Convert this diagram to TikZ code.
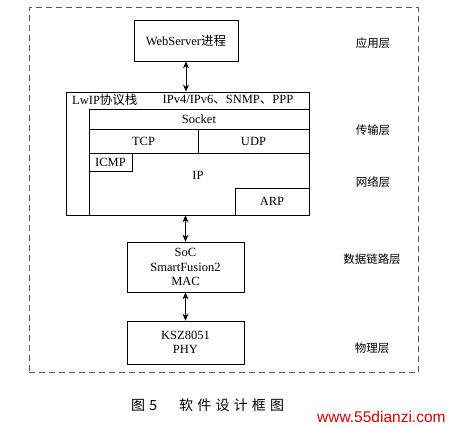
\documentclass[tikz,border=0pt]{standalone}
\usepackage{fontspec}
\setmainfont{Liberation Serif}
\newfontfamily\cjk{Noto Sans CJK SC}
\newfontfamily\cjkcap[LetterSpace=30]{Noto Sans CJK SC}
\newfontfamily\wmfont{Liberation Sans}
\usetikzlibrary{arrows.meta,positioning}
\begin{document}
\begin{tikzpicture}[
  x=1pt, y=-1pt,
  font=\fontsize{12.5}{14.5}\selectfont,
  box/.style={draw, line width=0.8pt, inner sep=0pt, align=center},
  cell/.style={draw, line width=0.7pt, inner sep=0pt},
  layer/.style={font=\cjk\fontsize{11.5}{14}\selectfont},
  arr/.style={{Stealth[length=7pt,width=6pt]}-{Stealth[length=7pt,width=6pt]}, line width=0.9pt}
]
\useasboundingbox (0,0) rectangle (451,428);
% outer dashed frame
\node[draw=black!65, dash pattern=on 6pt off 4pt, line width=1pt,
  minimum width=389pt, minimum height=365pt] (frame) at (223.5,190.5) {};

% application
\node[box, minimum width=104pt, minimum height=41pt] (web) at (186,40.5) {WebServer{\cjk 进程}};

% lwip stack
\node[box, minimum width=243pt, minimum height=123pt] (lwip) at (187.5,153.5) {};
\node[anchor=west, inner sep=0pt] (lwipname) at (72,100) {LwIP{\cjk 协议栈}};
\node[inner sep=0pt] (proto) at (228,100) {IPv4/IPv6{\cjk 、}SNMP{\cjk 、}PPP};
\node[cell, minimum width=220pt, minimum height=20pt] (socket) at (199,119) {Socket};
\node[cell, minimum width=109pt, minimum height=24pt] (tcp) at (143.5,141) {TCP};
\node[cell, minimum width=111pt, minimum height=24pt] (udp) at (253.5,141) {UDP};
\node[cell, minimum width=220pt, minimum height=62pt] (ipbox) at (199,184) {};
\node[inner sep=0pt] (ip) at (198,175) {IP};
\node[cell, minimum width=43pt, minimum height=18pt] (icmp) at (110.5,162) {ICMP};
\node[cell, minimum width=74pt, minimum height=27pt] (arp) at (272,201.5) {ARP};

% link and physical
\node[box, minimum width=117pt, minimum height=50pt] (soc) at (185.5,267) {SoC\\SmartFusion2\\MAC};
\node[box, minimum width=117pt, minimum height=43pt] (phy) at (185.5,342.5) {KSZ8051\\PHY};

\draw[arr] (web.south) -- (web.south |- lwip.north);
\draw[arr] (soc.north) -- (soc.north |- lwip.south);
\draw[arr] (soc.south) -- (phy.north);

% layer names
\node[layer] (app) at (373,43) {应用层};
\node[layer] (trans) at (373,130) {传输层};
\node[layer] (net) at (373,182) {网络层};
\node[layer] (link) at (372,259) {数据链路层};
\node[layer] (phys) at (372,348) {物理层};

% caption
\node[anchor=west, inner sep=0pt, font=\cjkcap\fontsize{14}{16}\selectfont] (cap) at (131,405) {图5\hspace{22pt}软件设计框图};
\node[anchor=west, inner sep=0pt, text=red!85!black, font=\wmfont\fontsize{15.5}{17}\selectfont] (wm) at (317,417) {www.55dianzi.com};
\end{tikzpicture}
\end{document}
